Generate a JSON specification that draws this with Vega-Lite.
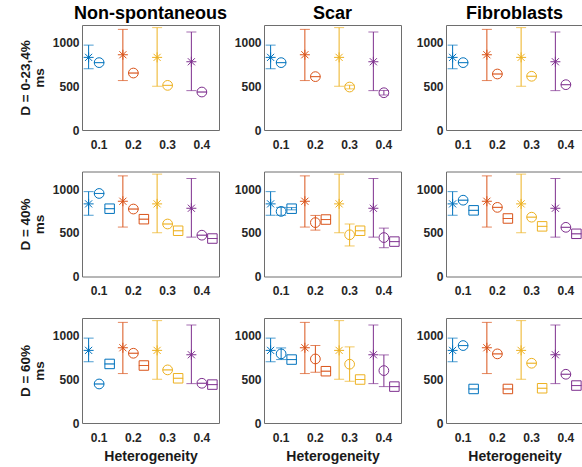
{
  "$schema": "https://vega.github.io/schema/vega-lite/v6.json",
  "padding": {"left": 17, "top": 4, "right": 0, "bottom": 0},
  "background": "white",
  "config": {
    "font": "Liberation Sans",
    "view": {"stroke": "#6e6e6e", "strokeWidth": 1},
    "title": {"font": "Liberation Sans", "fontSize": 18, "fontWeight": "bold", "color": "#000000", "offset": 2},
    "axis": {"labelFont": "Liberation Sans", "labelFontSize": 12, "labelFontWeight": "bold", "labelColor": "#262626", "titleFont": "Liberation Sans", "titleFontWeight": "bold", "titleColor": "#1a1a1a", "ticks": false, "tickSize": 0, "domain": false, "grid": false},
    "axisX": {"labelAngle": 0, "labelPadding": 9, "titlePadding": 6, "titleFontSize": 14},
    "axisY": {"labelPadding": 3, "titlePadding": 6, "titleFontSize": 13.5, "titleLineHeight": 14}
  },
  "data": {"values": [
    {"r":"0-23,4%","c":"Non-spontaneous","h":"0.1","s":"exp","m":830,"lo":700,"hi":970},
    {"r":"0-23,4%","c":"Non-spontaneous","h":"0.2","s":"exp","m":860,"lo":565,"hi":1150},
    {"r":"0-23,4%","c":"Non-spontaneous","h":"0.3","s":"exp","m":830,"lo":500,"hi":1170},
    {"r":"0-23,4%","c":"Non-spontaneous","h":"0.4","s":"exp","m":780,"lo":450,"hi":1120},
    {"r":"0-23,4%","c":"Non-spontaneous","h":"0.1","s":"sim1","m":770,"lo":770,"hi":770},
    {"r":"0-23,4%","c":"Non-spontaneous","h":"0.2","s":"sim1","m":651,"lo":651,"hi":651},
    {"r":"0-23,4%","c":"Non-spontaneous","h":"0.3","s":"sim1","m":510,"lo":510,"hi":510},
    {"r":"0-23,4%","c":"Non-spontaneous","h":"0.4","s":"sim1","m":434,"lo":434,"hi":434},

    {"r":"0-23,4%","c":"Scar","h":"0.1","s":"exp","m":830,"lo":700,"hi":970},
    {"r":"0-23,4%","c":"Scar","h":"0.2","s":"exp","m":860,"lo":565,"hi":1150},
    {"r":"0-23,4%","c":"Scar","h":"0.3","s":"exp","m":830,"lo":500,"hi":1170},
    {"r":"0-23,4%","c":"Scar","h":"0.4","s":"exp","m":780,"lo":450,"hi":1120},
    {"r":"0-23,4%","c":"Scar","h":"0.1","s":"sim1","m":770,"lo":770,"hi":770},
    {"r":"0-23,4%","c":"Scar","h":"0.2","s":"sim1","m":610,"lo":610,"hi":610},
    {"r":"0-23,4%","c":"Scar","h":"0.3","s":"sim1","m":491,"lo":470,"hi":512},
    {"r":"0-23,4%","c":"Scar","h":"0.4","s":"sim1","m":426,"lo":400,"hi":452},

    {"r":"0-23,4%","c":"Fibroblasts","h":"0.1","s":"exp","m":830,"lo":700,"hi":970},
    {"r":"0-23,4%","c":"Fibroblasts","h":"0.2","s":"exp","m":860,"lo":565,"hi":1150},
    {"r":"0-23,4%","c":"Fibroblasts","h":"0.3","s":"exp","m":830,"lo":500,"hi":1170},
    {"r":"0-23,4%","c":"Fibroblasts","h":"0.4","s":"exp","m":780,"lo":450,"hi":1120},
    {"r":"0-23,4%","c":"Fibroblasts","h":"0.1","s":"sim1","m":770,"lo":770,"hi":770},
    {"r":"0-23,4%","c":"Fibroblasts","h":"0.2","s":"sim1","m":640,"lo":640,"hi":640},
    {"r":"0-23,4%","c":"Fibroblasts","h":"0.3","s":"sim1","m":614,"lo":614,"hi":614},
    {"r":"0-23,4%","c":"Fibroblasts","h":"0.4","s":"sim1","m":518,"lo":518,"hi":518},

    {"r":"40%","c":"Non-spontaneous","h":"0.1","s":"exp","m":830,"lo":700,"hi":970},
    {"r":"40%","c":"Non-spontaneous","h":"0.2","s":"exp","m":860,"lo":565,"hi":1150},
    {"r":"40%","c":"Non-spontaneous","h":"0.3","s":"exp","m":830,"lo":500,"hi":1170},
    {"r":"40%","c":"Non-spontaneous","h":"0.4","s":"exp","m":780,"lo":450,"hi":1120},
    {"r":"40%","c":"Non-spontaneous","h":"0.1","s":"sim1","m":949,"lo":949,"hi":949},
    {"r":"40%","c":"Non-spontaneous","h":"0.2","s":"sim1","m":771,"lo":771,"hi":771},
    {"r":"40%","c":"Non-spontaneous","h":"0.3","s":"sim1","m":600,"lo":600,"hi":600},
    {"r":"40%","c":"Non-spontaneous","h":"0.4","s":"sim1","m":472,"lo":472,"hi":472},
    {"r":"40%","c":"Non-spontaneous","h":"0.1","s":"sim2","m":775,"lo":775,"hi":775},
    {"r":"40%","c":"Non-spontaneous","h":"0.2","s":"sim2","m":655,"lo":655,"hi":655},
    {"r":"40%","c":"Non-spontaneous","h":"0.3","s":"sim2","m":523,"lo":523,"hi":523},
    {"r":"40%","c":"Non-spontaneous","h":"0.4","s":"sim2","m":434,"lo":434,"hi":434},

    {"r":"40%","c":"Scar","h":"0.1","s":"exp","m":830,"lo":700,"hi":970},
    {"r":"40%","c":"Scar","h":"0.2","s":"exp","m":860,"lo":565,"hi":1150},
    {"r":"40%","c":"Scar","h":"0.3","s":"exp","m":830,"lo":500,"hi":1170},
    {"r":"40%","c":"Scar","h":"0.4","s":"exp","m":780,"lo":450,"hi":1120},
    {"r":"40%","c":"Scar","h":"0.1","s":"sim1","m":744,"lo":700,"hi":790},
    {"r":"40%","c":"Scar","h":"0.2","s":"sim1","m":616,"lo":530,"hi":698},
    {"r":"40%","c":"Scar","h":"0.3","s":"sim1","m":477,"lo":349,"hi":600},
    {"r":"40%","c":"Scar","h":"0.4","s":"sim1","m":445,"lo":329,"hi":553},
    {"r":"40%","c":"Scar","h":"0.1","s":"sim2","m":775,"lo":762,"hi":788},
    {"r":"40%","c":"Scar","h":"0.2","s":"sim2","m":651,"lo":651,"hi":651},
    {"r":"40%","c":"Scar","h":"0.3","s":"sim2","m":523,"lo":523,"hi":523},
    {"r":"40%","c":"Scar","h":"0.4","s":"sim2","m":399,"lo":399,"hi":399},

    {"r":"40%","c":"Fibroblasts","h":"0.1","s":"exp","m":830,"lo":700,"hi":970},
    {"r":"40%","c":"Fibroblasts","h":"0.2","s":"exp","m":860,"lo":565,"hi":1150},
    {"r":"40%","c":"Fibroblasts","h":"0.3","s":"exp","m":830,"lo":500,"hi":1170},
    {"r":"40%","c":"Fibroblasts","h":"0.4","s":"exp","m":780,"lo":450,"hi":1120},
    {"r":"40%","c":"Fibroblasts","h":"0.1","s":"sim1","m":872,"lo":872,"hi":872},
    {"r":"40%","c":"Fibroblasts","h":"0.2","s":"sim1","m":790,"lo":790,"hi":790},
    {"r":"40%","c":"Fibroblasts","h":"0.3","s":"sim1","m":678,"lo":678,"hi":678},
    {"r":"40%","c":"Fibroblasts","h":"0.4","s":"sim1","m":562,"lo":562,"hi":562},
    {"r":"40%","c":"Fibroblasts","h":"0.1","s":"sim2","m":756,"lo":756,"hi":756},
    {"r":"40%","c":"Fibroblasts","h":"0.2","s":"sim2","m":663,"lo":663,"hi":663},
    {"r":"40%","c":"Fibroblasts","h":"0.3","s":"sim2","m":573,"lo":573,"hi":573},
    {"r":"40%","c":"Fibroblasts","h":"0.4","s":"sim2","m":488,"lo":488,"hi":488},

    {"r":"60%","c":"Non-spontaneous","h":"0.1","s":"exp","m":830,"lo":700,"hi":970},
    {"r":"60%","c":"Non-spontaneous","h":"0.2","s":"exp","m":860,"lo":565,"hi":1150},
    {"r":"60%","c":"Non-spontaneous","h":"0.3","s":"exp","m":830,"lo":500,"hi":1170},
    {"r":"60%","c":"Non-spontaneous","h":"0.4","s":"exp","m":780,"lo":450,"hi":1120},
    {"r":"60%","c":"Non-spontaneous","h":"0.1","s":"sim1","m":446,"lo":446,"hi":446},
    {"r":"60%","c":"Non-spontaneous","h":"0.2","s":"sim1","m":797,"lo":797,"hi":797},
    {"r":"60%","c":"Non-spontaneous","h":"0.3","s":"sim1","m":607,"lo":607,"hi":607},
    {"r":"60%","c":"Non-spontaneous","h":"0.4","s":"sim1","m":454,"lo":454,"hi":454},
    {"r":"60%","c":"Non-spontaneous","h":"0.1","s":"sim2","m":675,"lo":675,"hi":675},
    {"r":"60%","c":"Non-spontaneous","h":"0.2","s":"sim2","m":657,"lo":657,"hi":657},
    {"r":"60%","c":"Non-spontaneous","h":"0.3","s":"sim2","m":511,"lo":511,"hi":511},
    {"r":"60%","c":"Non-spontaneous","h":"0.4","s":"sim2","m":439,"lo":439,"hi":439},

    {"r":"60%","c":"Scar","h":"0.1","s":"exp","m":830,"lo":700,"hi":970},
    {"r":"60%","c":"Scar","h":"0.2","s":"exp","m":860,"lo":565,"hi":1150},
    {"r":"60%","c":"Scar","h":"0.3","s":"exp","m":830,"lo":500,"hi":1170},
    {"r":"60%","c":"Scar","h":"0.4","s":"exp","m":780,"lo":450,"hi":1120},
    {"r":"60%","c":"Scar","h":"0.1","s":"sim1","m":790,"lo":725,"hi":858},
    {"r":"60%","c":"Scar","h":"0.2","s":"sim1","m":732,"lo":580,"hi":886},
    {"r":"60%","c":"Scar","h":"0.3","s":"sim1","m":672,"lo":477,"hi":870},
    {"r":"60%","c":"Scar","h":"0.4","s":"sim1","m":599,"lo":416,"hi":778},
    {"r":"60%","c":"Scar","h":"0.1","s":"sim2","m":725,"lo":725,"hi":725},
    {"r":"60%","c":"Scar","h":"0.2","s":"sim2","m":592,"lo":592,"hi":592},
    {"r":"60%","c":"Scar","h":"0.3","s":"sim2","m":497,"lo":497,"hi":497},
    {"r":"60%","c":"Scar","h":"0.4","s":"sim2","m":416,"lo":416,"hi":416},

    {"r":"60%","c":"Fibroblasts","h":"0.1","s":"exp","m":830,"lo":700,"hi":970},
    {"r":"60%","c":"Fibroblasts","h":"0.2","s":"exp","m":860,"lo":565,"hi":1150},
    {"r":"60%","c":"Fibroblasts","h":"0.3","s":"exp","m":830,"lo":500,"hi":1170},
    {"r":"60%","c":"Fibroblasts","h":"0.4","s":"exp","m":780,"lo":450,"hi":1120},
    {"r":"60%","c":"Fibroblasts","h":"0.1","s":"sim1","m":885,"lo":885,"hi":885},
    {"r":"60%","c":"Fibroblasts","h":"0.2","s":"sim1","m":790,"lo":790,"hi":790},
    {"r":"60%","c":"Fibroblasts","h":"0.3","s":"sim1","m":683,"lo":683,"hi":683},
    {"r":"60%","c":"Fibroblasts","h":"0.4","s":"sim1","m":557,"lo":557,"hi":557},
    {"r":"60%","c":"Fibroblasts","h":"0.1","s":"sim2","m":389,"lo":389,"hi":389},
    {"r":"60%","c":"Fibroblasts","h":"0.2","s":"sim2","m":389,"lo":389,"hi":389},
    {"r":"60%","c":"Fibroblasts","h":"0.3","s":"sim2","m":397,"lo":397,"hi":397},
    {"r":"60%","c":"Fibroblasts","h":"0.4","s":"sim2","m":428,"lo":428,"hi":428}
  ]},
  "bounds": "flush",
  "columns": 3,
  "spacing": {"row": 41.5, "column": 45},
  "concat": [
      {"width":137,"height":105,"title":"Non-spontaneous",
       "transform":[{"filter":"datum.r==='0-23,4%' && datum.c==='Non-spontaneous'"}],
       "encoding":{
         "x":{"field":"h","type":"ordinal","scale":{"domain":["0.1","0.2","0.3","0.4"],"paddingInner":0,"paddingOuter":0},"axis":{"title":null}},
         "xOffset":{"field":"s","scale":{"domain":["exp","sim1","sim2"],"paddingInner":0,"paddingOuter":0.13}},
         "color":{"field":"h","type":"nominal","scale":{"domain":["0.1","0.2","0.3","0.4"],"range":["#0072BD","#D95319","#EDB120","#7E2F8E"]},"legend":null}},
       "layer":[
         {"mark":{"type":"rule","strokeWidth":1},"encoding":{"y":{"field":"lo","type":"quantitative","scale":{"domain":[0,1200]},"axis":{"title":["D = 0-23,4%","ms"],"values":[0,500,1000],"format":"d"}},"y2":{"field":"hi"}}},
         {"transform":[{"fold":["lo","hi"],"as":["k","v"]}],"mark":{"type":"tick","size":10,"thickness":1},"encoding":{"y":{"field":"v","type":"quantitative","axis":{"title":["D = 0-23,4%","ms"],"values":[0,500,1000],"format":"d"}}}},
         {"mark":{"type":"point","filled":false,"strokeWidth":1,"opacity":1},"encoding":{"y":{"field":"m","type":"quantitative","axis":{"title":["D = 0-23,4%","ms"],"values":[0,500,1000],"format":"d"}},
           "shape":{"field":"s","type":"nominal","scale":{"domain":["exp","sim1","sim2"],"range":["M0,-1L0,1M-1,0L1,0M-0.71,-0.71L0.71,0.71M-0.71,0.71L0.71,-0.71","circle","square"]},"legend":null},
           "size":{"field":"s","type":"nominal","scale":{"domain":["exp","sim1","sim2"],"range":[100,90,45]},"legend":null}}}
       ]},
      {"width":137,"height":105,"title":"Scar",
       "transform":[{"filter":"datum.r==='0-23,4%' && datum.c==='Scar'"}],
       "encoding":{
         "x":{"field":"h","type":"ordinal","scale":{"domain":["0.1","0.2","0.3","0.4"],"paddingInner":0,"paddingOuter":0},"axis":{"title":null}},
         "xOffset":{"field":"s","scale":{"domain":["exp","sim1","sim2"],"paddingInner":0,"paddingOuter":0.13}},
         "color":{"field":"h","type":"nominal","scale":{"domain":["0.1","0.2","0.3","0.4"],"range":["#0072BD","#D95319","#EDB120","#7E2F8E"]},"legend":null}},
       "layer":[
         {"mark":{"type":"rule","strokeWidth":1},"encoding":{"y":{"field":"lo","type":"quantitative","scale":{"domain":[0,1200]},"axis":{"title":null,"values":[0,500,1000],"format":"d"}},"y2":{"field":"hi"}}},
         {"transform":[{"fold":["lo","hi"],"as":["k","v"]}],"mark":{"type":"tick","size":10,"thickness":1},"encoding":{"y":{"field":"v","type":"quantitative","axis":{"title":null,"values":[0,500,1000],"format":"d"}}}},
         {"mark":{"type":"point","filled":false,"strokeWidth":1,"opacity":1},"encoding":{"y":{"field":"m","type":"quantitative","axis":{"title":null,"values":[0,500,1000],"format":"d"}},
           "shape":{"field":"s","type":"nominal","scale":{"domain":["exp","sim1","sim2"],"range":["M0,-1L0,1M-1,0L1,0M-0.71,-0.71L0.71,0.71M-0.71,0.71L0.71,-0.71","circle","square"]},"legend":null},
           "size":{"field":"s","type":"nominal","scale":{"domain":["exp","sim1","sim2"],"range":[100,90,45]},"legend":null}}}
       ]},
      {"width":137,"height":105,"title":"Fibroblasts",
       "transform":[{"filter":"datum.r==='0-23,4%' && datum.c==='Fibroblasts'"}],
       "encoding":{
         "x":{"field":"h","type":"ordinal","scale":{"domain":["0.1","0.2","0.3","0.4"],"paddingInner":0,"paddingOuter":0},"axis":{"title":null}},
         "xOffset":{"field":"s","scale":{"domain":["exp","sim1","sim2"],"paddingInner":0,"paddingOuter":0.13}},
         "color":{"field":"h","type":"nominal","scale":{"domain":["0.1","0.2","0.3","0.4"],"range":["#0072BD","#D95319","#EDB120","#7E2F8E"]},"legend":null}},
       "layer":[
         {"mark":{"type":"rule","strokeWidth":1},"encoding":{"y":{"field":"lo","type":"quantitative","scale":{"domain":[0,1200]},"axis":{"title":null,"values":[0,500,1000],"format":"d"}},"y2":{"field":"hi"}}},
         {"transform":[{"fold":["lo","hi"],"as":["k","v"]}],"mark":{"type":"tick","size":10,"thickness":1},"encoding":{"y":{"field":"v","type":"quantitative","axis":{"title":null,"values":[0,500,1000],"format":"d"}}}},
         {"mark":{"type":"point","filled":false,"strokeWidth":1,"opacity":1},"encoding":{"y":{"field":"m","type":"quantitative","axis":{"title":null,"values":[0,500,1000],"format":"d"}},
           "shape":{"field":"s","type":"nominal","scale":{"domain":["exp","sim1","sim2"],"range":["M0,-1L0,1M-1,0L1,0M-0.71,-0.71L0.71,0.71M-0.71,0.71L0.71,-0.71","circle","square"]},"legend":null},
           "size":{"field":"s","type":"nominal","scale":{"domain":["exp","sim1","sim2"],"range":[100,90,45]},"legend":null}}}
       ]},
      {"width":137,"height":105,
       "transform":[{"filter":"datum.r==='40%' && datum.c==='Non-spontaneous'"}],
       "encoding":{
         "x":{"field":"h","type":"ordinal","scale":{"domain":["0.1","0.2","0.3","0.4"],"paddingInner":0,"paddingOuter":0},"axis":{"title":null}},
         "xOffset":{"field":"s","scale":{"domain":["exp","sim1","sim2"],"paddingInner":0,"paddingOuter":0.13}},
         "color":{"field":"h","type":"nominal","scale":{"domain":["0.1","0.2","0.3","0.4"],"range":["#0072BD","#D95319","#EDB120","#7E2F8E"]},"legend":null}},
       "layer":[
         {"mark":{"type":"rule","strokeWidth":1},"encoding":{"y":{"field":"lo","type":"quantitative","scale":{"domain":[0,1200]},"axis":{"title":["D = 40%","ms"],"values":[0,500,1000],"format":"d"}},"y2":{"field":"hi"}}},
         {"transform":[{"fold":["lo","hi"],"as":["k","v"]}],"mark":{"type":"tick","size":10,"thickness":1},"encoding":{"y":{"field":"v","type":"quantitative","axis":{"title":["D = 40%","ms"],"values":[0,500,1000],"format":"d"}}}},
         {"mark":{"type":"point","filled":false,"strokeWidth":1,"opacity":1},"encoding":{"y":{"field":"m","type":"quantitative","axis":{"title":["D = 40%","ms"],"values":[0,500,1000],"format":"d"}},
           "shape":{"field":"s","type":"nominal","scale":{"domain":["exp","sim1","sim2"],"range":["M0,-1L0,1M-1,0L1,0M-0.71,-0.71L0.71,0.71M-0.71,0.71L0.71,-0.71","circle","square"]},"legend":null},
           "size":{"field":"s","type":"nominal","scale":{"domain":["exp","sim1","sim2"],"range":[100,90,45]},"legend":null}}}
       ]},
      {"width":137,"height":105,
       "transform":[{"filter":"datum.r==='40%' && datum.c==='Scar'"}],
       "encoding":{
         "x":{"field":"h","type":"ordinal","scale":{"domain":["0.1","0.2","0.3","0.4"],"paddingInner":0,"paddingOuter":0},"axis":{"title":null}},
         "xOffset":{"field":"s","scale":{"domain":["exp","sim1","sim2"],"paddingInner":0,"paddingOuter":0.13}},
         "color":{"field":"h","type":"nominal","scale":{"domain":["0.1","0.2","0.3","0.4"],"range":["#0072BD","#D95319","#EDB120","#7E2F8E"]},"legend":null}},
       "layer":[
         {"mark":{"type":"rule","strokeWidth":1},"encoding":{"y":{"field":"lo","type":"quantitative","scale":{"domain":[0,1200]},"axis":{"title":null,"values":[0,500,1000],"format":"d"}},"y2":{"field":"hi"}}},
         {"transform":[{"fold":["lo","hi"],"as":["k","v"]}],"mark":{"type":"tick","size":10,"thickness":1},"encoding":{"y":{"field":"v","type":"quantitative","axis":{"title":null,"values":[0,500,1000],"format":"d"}}}},
         {"mark":{"type":"point","filled":false,"strokeWidth":1,"opacity":1},"encoding":{"y":{"field":"m","type":"quantitative","axis":{"title":null,"values":[0,500,1000],"format":"d"}},
           "shape":{"field":"s","type":"nominal","scale":{"domain":["exp","sim1","sim2"],"range":["M0,-1L0,1M-1,0L1,0M-0.71,-0.71L0.71,0.71M-0.71,0.71L0.71,-0.71","circle","square"]},"legend":null},
           "size":{"field":"s","type":"nominal","scale":{"domain":["exp","sim1","sim2"],"range":[100,90,45]},"legend":null}}}
       ]},
      {"width":137,"height":105,
       "transform":[{"filter":"datum.r==='40%' && datum.c==='Fibroblasts'"}],
       "encoding":{
         "x":{"field":"h","type":"ordinal","scale":{"domain":["0.1","0.2","0.3","0.4"],"paddingInner":0,"paddingOuter":0},"axis":{"title":null}},
         "xOffset":{"field":"s","scale":{"domain":["exp","sim1","sim2"],"paddingInner":0,"paddingOuter":0.13}},
         "color":{"field":"h","type":"nominal","scale":{"domain":["0.1","0.2","0.3","0.4"],"range":["#0072BD","#D95319","#EDB120","#7E2F8E"]},"legend":null}},
       "layer":[
         {"mark":{"type":"rule","strokeWidth":1},"encoding":{"y":{"field":"lo","type":"quantitative","scale":{"domain":[0,1200]},"axis":{"title":null,"values":[0,500,1000],"format":"d"}},"y2":{"field":"hi"}}},
         {"transform":[{"fold":["lo","hi"],"as":["k","v"]}],"mark":{"type":"tick","size":10,"thickness":1},"encoding":{"y":{"field":"v","type":"quantitative","axis":{"title":null,"values":[0,500,1000],"format":"d"}}}},
         {"mark":{"type":"point","filled":false,"strokeWidth":1,"opacity":1},"encoding":{"y":{"field":"m","type":"quantitative","axis":{"title":null,"values":[0,500,1000],"format":"d"}},
           "shape":{"field":"s","type":"nominal","scale":{"domain":["exp","sim1","sim2"],"range":["M0,-1L0,1M-1,0L1,0M-0.71,-0.71L0.71,0.71M-0.71,0.71L0.71,-0.71","circle","square"]},"legend":null},
           "size":{"field":"s","type":"nominal","scale":{"domain":["exp","sim1","sim2"],"range":[100,90,45]},"legend":null}}}
       ]},
      {"width":137,"height":105,
       "transform":[{"filter":"datum.r==='60%' && datum.c==='Non-spontaneous'"}],
       "encoding":{
         "x":{"field":"h","type":"ordinal","scale":{"domain":["0.1","0.2","0.3","0.4"],"paddingInner":0,"paddingOuter":0},"axis":{"title":"Heterogeneity"}},
         "xOffset":{"field":"s","scale":{"domain":["exp","sim1","sim2"],"paddingInner":0,"paddingOuter":0.13}},
         "color":{"field":"h","type":"nominal","scale":{"domain":["0.1","0.2","0.3","0.4"],"range":["#0072BD","#D95319","#EDB120","#7E2F8E"]},"legend":null}},
       "layer":[
         {"mark":{"type":"rule","strokeWidth":1},"encoding":{"y":{"field":"lo","type":"quantitative","scale":{"domain":[0,1200]},"axis":{"title":["D = 60%","ms"],"values":[0,500,1000],"format":"d"}},"y2":{"field":"hi"}}},
         {"transform":[{"fold":["lo","hi"],"as":["k","v"]}],"mark":{"type":"tick","size":10,"thickness":1},"encoding":{"y":{"field":"v","type":"quantitative","axis":{"title":["D = 60%","ms"],"values":[0,500,1000],"format":"d"}}}},
         {"mark":{"type":"point","filled":false,"strokeWidth":1,"opacity":1},"encoding":{"y":{"field":"m","type":"quantitative","axis":{"title":["D = 60%","ms"],"values":[0,500,1000],"format":"d"}},
           "shape":{"field":"s","type":"nominal","scale":{"domain":["exp","sim1","sim2"],"range":["M0,-1L0,1M-1,0L1,0M-0.71,-0.71L0.71,0.71M-0.71,0.71L0.71,-0.71","circle","square"]},"legend":null},
           "size":{"field":"s","type":"nominal","scale":{"domain":["exp","sim1","sim2"],"range":[100,90,45]},"legend":null}}}
       ]},
      {"width":137,"height":105,
       "transform":[{"filter":"datum.r==='60%' && datum.c==='Scar'"}],
       "encoding":{
         "x":{"field":"h","type":"ordinal","scale":{"domain":["0.1","0.2","0.3","0.4"],"paddingInner":0,"paddingOuter":0},"axis":{"title":"Heterogeneity"}},
         "xOffset":{"field":"s","scale":{"domain":["exp","sim1","sim2"],"paddingInner":0,"paddingOuter":0.13}},
         "color":{"field":"h","type":"nominal","scale":{"domain":["0.1","0.2","0.3","0.4"],"range":["#0072BD","#D95319","#EDB120","#7E2F8E"]},"legend":null}},
       "layer":[
         {"mark":{"type":"rule","strokeWidth":1},"encoding":{"y":{"field":"lo","type":"quantitative","scale":{"domain":[0,1200]},"axis":{"title":null,"values":[0,500,1000],"format":"d"}},"y2":{"field":"hi"}}},
         {"transform":[{"fold":["lo","hi"],"as":["k","v"]}],"mark":{"type":"tick","size":10,"thickness":1},"encoding":{"y":{"field":"v","type":"quantitative","axis":{"title":null,"values":[0,500,1000],"format":"d"}}}},
         {"mark":{"type":"point","filled":false,"strokeWidth":1,"opacity":1},"encoding":{"y":{"field":"m","type":"quantitative","axis":{"title":null,"values":[0,500,1000],"format":"d"}},
           "shape":{"field":"s","type":"nominal","scale":{"domain":["exp","sim1","sim2"],"range":["M0,-1L0,1M-1,0L1,0M-0.71,-0.71L0.71,0.71M-0.71,0.71L0.71,-0.71","circle","square"]},"legend":null},
           "size":{"field":"s","type":"nominal","scale":{"domain":["exp","sim1","sim2"],"range":[100,90,45]},"legend":null}}}
       ]},
      {"width":137,"height":105,
       "transform":[{"filter":"datum.r==='60%' && datum.c==='Fibroblasts'"}],
       "encoding":{
         "x":{"field":"h","type":"ordinal","scale":{"domain":["0.1","0.2","0.3","0.4"],"paddingInner":0,"paddingOuter":0},"axis":{"title":"Heterogeneity"}},
         "xOffset":{"field":"s","scale":{"domain":["exp","sim1","sim2"],"paddingInner":0,"paddingOuter":0.13}},
         "color":{"field":"h","type":"nominal","scale":{"domain":["0.1","0.2","0.3","0.4"],"range":["#0072BD","#D95319","#EDB120","#7E2F8E"]},"legend":null}},
       "layer":[
         {"mark":{"type":"rule","strokeWidth":1},"encoding":{"y":{"field":"lo","type":"quantitative","scale":{"domain":[0,1200]},"axis":{"title":null,"values":[0,500,1000],"format":"d"}},"y2":{"field":"hi"}}},
         {"transform":[{"fold":["lo","hi"],"as":["k","v"]}],"mark":{"type":"tick","size":10,"thickness":1},"encoding":{"y":{"field":"v","type":"quantitative","axis":{"title":null,"values":[0,500,1000],"format":"d"}}}},
         {"mark":{"type":"point","filled":false,"strokeWidth":1,"opacity":1},"encoding":{"y":{"field":"m","type":"quantitative","axis":{"title":null,"values":[0,500,1000],"format":"d"}},
           "shape":{"field":"s","type":"nominal","scale":{"domain":["exp","sim1","sim2"],"range":["M0,-1L0,1M-1,0L1,0M-0.71,-0.71L0.71,0.71M-0.71,0.71L0.71,-0.71","circle","square"]},"legend":null},
           "size":{"field":"s","type":"nominal","scale":{"domain":["exp","sim1","sim2"],"range":[100,90,45]},"legend":null}}}
       ]}
  ]
}
